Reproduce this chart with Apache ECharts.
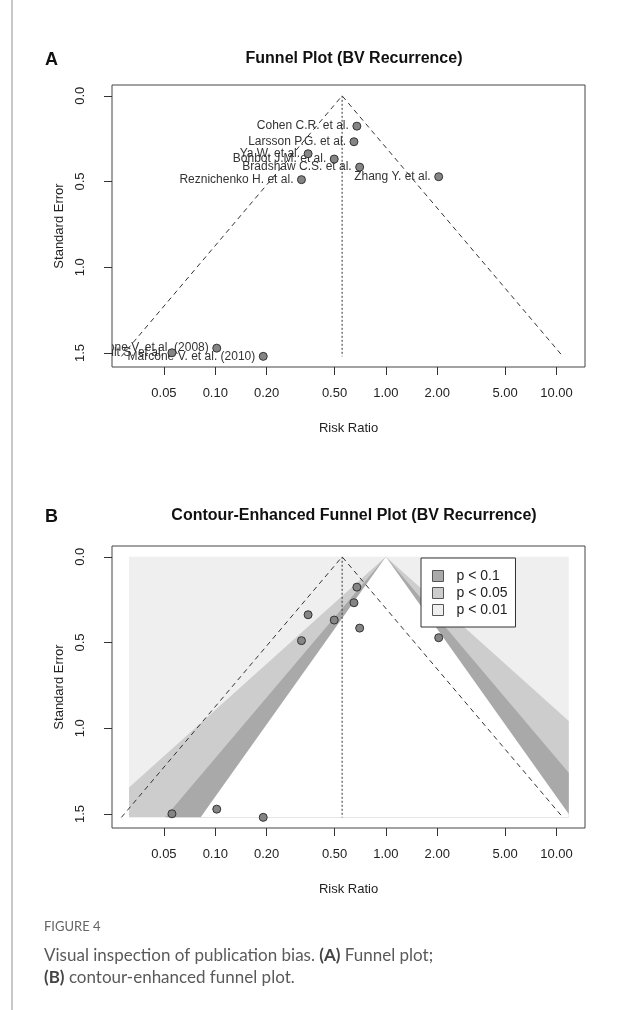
<!DOCTYPE html>
<html>
<head>
<meta charset="utf-8">
<script src="https://cdn.jsdelivr.net/npm/echarts@6/dist/echarts.min.js"></script>
<style>
  html, body { margin: 0; padding: 0; background: #fff; }
  #main { width: 620px; height: 1010px; }
</style>
</head>
<body>
<div id="main"></div>
<script>
// study data
var studies = ['Cohen C.R. et al.', 'Larsson P.G. et al.', 'Ya W. et al.', 'Bohbot J.M. et al.',
  'Bradshaw C.S. et al.', 'Zhang Y. et al.', 'Reznichenko H. et al.',
  'Marcone V. et al. (2008)', 'Hult S. et al.', 'Marcone V. et al. (2010)'];
var riskRatio = [0.676, 0.650, 0.350, 0.498, 0.702, 2.04, 0.320, 0.102, 0.0557, 0.191];
var stdError = [0.177, 0.268, 0.338, 0.369, 0.416, 0.472, 0.489, 1.472, 1.499, 1.520];

var pooledRR = 0.554;      // summary estimate (dotted vertical line)
var funnelZ = 1.96;        // pseudo 95% CI funnel
var seMax = 1.52;
var xTicks = [0.05, 0.1, 0.2, 0.5, 1, 2, 5, 10];
var yTicks = [0, 0.5, 1, 1.5];

// contour-enhanced plot: significance levels around RR = 1
var contourLevels = ['p < 0.1', 'p < 0.05', 'p < 0.01'];
var contourZ = [1.645, 1.96, 2.576];
var contourColors = ['#a9a9a9', '#cdcdcd', '#efefef'];
var shadeRange = [0.0312, 11.8];

var FONT = 'Liberation Sans, Arial, sans-serif';
var LN10 = Math.log(10);

function funnelLine(center, z) {
  var c = Math.log10(center);
  return [
    [Math.pow(10, c - z * seMax / LN10), seMax],
    [center, 0],
    [Math.pow(10, c + z * seMax / LN10), seMax]
  ];
}

// triangle for a contour, cut to the shaded rectangle
function contourPoly(z) {
  var lx = Math.log10(shadeRange[0]), rx = Math.log10(shadeRange[1]);
  var pts = [[1, 0]];
  var seR = rx * LN10 / z;
  if (seR < seMax) { pts.push([shadeRange[1], seR], [shadeRange[1], seMax]); }
  else { pts.push([Math.pow(10, z * seMax / LN10), seMax]); }
  var seL = -lx * LN10 / z;
  if (seL < seMax) { pts.push([shadeRange[0], seMax], [shadeRange[0], seL]); }
  else { pts.push([Math.pow(10, -z * seMax / LN10), seMax]); }
  return pts;
}

function polySeries(name, pts, color, idx) {
  return {
    name: name,
    type: 'custom',
    xAxisIndex: idx, yAxisIndex: idx,
    silent: true,
    z: 1,
    itemStyle: { color: color },
    data: [0],
    renderItem: function (params, api) {
      return {
        type: 'polygon',
        shape: { points: pts.map(function (p) { return api.coord(p); }) },
        style: { fill: color }
      };
    }
  };
}

function xAxisCfg(idx) {
  return {
    type: 'log', logBase: 10, gridIndex: idx, position: 'bottom',
    min: 0.0248, max: 14.7,
    name: 'Risk Ratio', nameLocation: 'middle', nameGap: 55,
    nameTextStyle: { fontFamily: FONT, fontSize: 13, color: '#222' },
    axisLine: { show: false, onZero: false },
    splitLine: { show: false },
    axisTick: { show: true, customValues: xTicks, length: 8, inside: false, lineStyle: { color: '#333' } },
    axisLabel: {
      customValues: xTicks, margin: 20, fontFamily: FONT, fontSize: 13, color: '#222',
      formatter: function (v) { return Number(v).toFixed(2); }
    }
  };
}

function yAxisCfg(idx) {
  return {
    type: 'value', gridIndex: idx, inverse: true, position: 'left',
    min: -0.063, max: 1.582,
    name: 'Standard Error', nameLocation: 'middle', nameGap: 45,
    nameTextStyle: { fontFamily: FONT, fontSize: 13, color: '#222' },
    axisLine: { show: false, onZero: false },
    splitLine: { show: false },
    axisTick: { show: true, customValues: yTicks, length: 8, lineStyle: { color: '#333' } },
    axisLabel: {
      customValues: yTicks, rotate: 90, margin: 25, fontFamily: FONT, fontSize: 13, color: '#222',
      formatter: function (v) { return Number(v).toFixed(1); }
    }
  };
}

var points = riskRatio.map(function (r, i) { return [r, stdError[i]]; });

function pointSeries(idx) {
  return {
    type: 'scatter', xAxisIndex: idx, yAxisIndex: idx,
    symbolSize: 8, z: 5, silent: true,
    itemStyle: { color: '#858585', borderColor: '#333', borderWidth: 1, opacity: 1 },
    data: points
  };
}

function refLines(idx) {
  return [{
    type: 'line', xAxisIndex: idx, yAxisIndex: idx, z: 3, silent: true,
    symbol: 'none', data: funnelLine(pooledRR, funnelZ),
    lineStyle: { color: '#333', width: 1, type: [5, 4] }
  }, {
    type: 'line', xAxisIndex: idx, yAxisIndex: idx, z: 3, silent: true,
    symbol: 'none', data: [[pooledRR, 0], [pooledRR, seMax]],
    lineStyle: { color: '#333', width: 1, type: [2, 2] }
  }];
}

var series = [];
// plot A
series = series.concat(refLines(0));
series.push(pointSeries(0));
series.push({
  type: 'custom', xAxisIndex: 0, yAxisIndex: 0, clip: true, silent: true, z: 4,
  data: points,
  renderItem: function (params, api) {
    var p = api.coord([api.value(0), api.value(1)]);
    return {
      type: 'text', x: p[0] - 8, y: p[1],
      style: { text: studies[params.dataIndex], align: 'right', verticalAlign: 'middle',
        fontFamily: FONT, fontSize: 12, fill: '#333' }
    };
  }
});
// plot B
series.push(polySeries(contourLevels[2], [[shadeRange[0], 0], [shadeRange[1], 0], [shadeRange[1], seMax], [shadeRange[0], seMax]], contourColors[2], 1));
series.push(polySeries(contourLevels[1], contourPoly(contourZ[2]), contourColors[1], 1));
series.push(polySeries(contourLevels[0], contourPoly(contourZ[1]), contourColors[0], 1));
series.push(polySeries('inner', contourPoly(contourZ[0]), '#ffffff', 1));
series = series.concat(refLines(1));
series.push(pointSeries(1));

var chart = echarts.init(document.getElementById('main'), null, { renderer: 'canvas' });
chart.setOption({
  animation: false,
  backgroundColor: '#fff',
  title: [
    { text: 'A', left: 40, top: 46, textStyle: { fontFamily: FONT, fontSize: 18, fontWeight: 'bold', color: '#111' } },
    { text: 'Funnel Plot (BV Recurrence)', left: 349, top: 46, textAlign: 'center',
      textStyle: { fontFamily: FONT, fontSize: 16, fontWeight: 'bold', color: '#111' } },
    { text: 'B', left: 40, top: 503, textStyle: { fontFamily: FONT, fontSize: 18, fontWeight: 'bold', color: '#111' } },
    { text: 'Contour-Enhanced Funnel Plot (BV Recurrence)', left: 349, top: 503, textAlign: 'center',
      textStyle: { fontFamily: FONT, fontSize: 16, fontWeight: 'bold', color: '#111' } }
  ],
  grid: [
    { left: 112, top: 85, width: 473, height: 282, show: true, borderColor: '#444', borderWidth: 1, backgroundColor: 'transparent' },
    { left: 112, top: 546, width: 473, height: 282, show: true, borderColor: '#444', borderWidth: 1, backgroundColor: 'transparent' }
  ],
  xAxis: [xAxisCfg(0), xAxisCfg(1)],
  yAxis: [yAxisCfg(0), yAxisCfg(1)],
  legend: {
    data: contourLevels,
    orient: 'vertical', left: 421, top: 558,
    selectedMode: false,
    backgroundColor: '#fff', borderColor: '#333', borderWidth: 1, borderRadius: 0,
    padding: [11, 8, 10, 11],
    itemWidth: 11, itemHeight: 11, itemGap: 3,
    icon: 'rect',
    itemStyle: { borderColor: '#555', borderWidth: 1 },
    textStyle: { fontFamily: FONT, fontSize: 14, color: '#222', padding: [0, 0, 0, 8] }
  },
  graphic: [
    { type: 'line', shape: { x1: 12, y1: 0, x2: 12, y2: 1010 }, style: { stroke: '#c8c8c8', lineWidth: 2 } },
    { type: 'text', left: 44, top: 920, style: { text: 'FIGURE 4', fontFamily: 'Lato, Open Sans, sans-serif', fontSize: 13, fill: '#666' } },
    { type: 'text', left: 44, top: 945, style: {
      text: 'Visual inspection of publication bias. {b|(A)} Funnel plot;\n{b|(B)} contour-enhanced funnel plot.',
      fontFamily: 'Lato, Open Sans, sans-serif', fontSize: 17, lineHeight: 22, fill: '#5a5a5a',
      rich: { b: { fontFamily: 'Lato, Open Sans, sans-serif', fontSize: 17, fontWeight: 'bold', fill: '#444' } }
    } }
  ],
  series: series
});
</script>
</body>
</html>
